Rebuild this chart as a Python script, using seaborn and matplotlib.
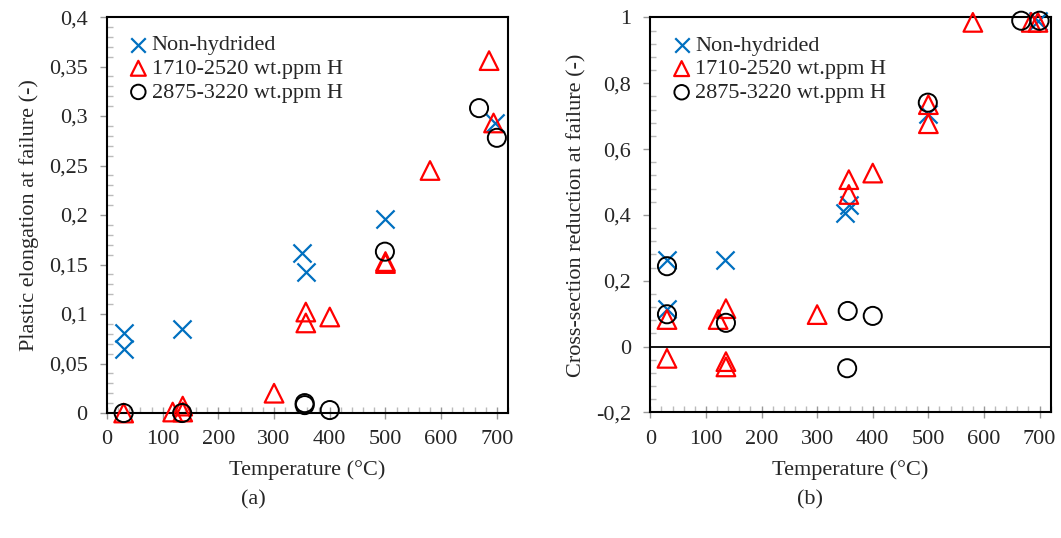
import matplotlib
matplotlib.use('Agg')
import matplotlib.pyplot as plt
import seaborn as sns
import pandas as pd
from matplotlib.ticker import MultipleLocator, FuncFormatter

# Panel (a): plastic elongation at failure
t_nh_a = [30, 30, 135, 350, 357, 499, 697]
v_nh_a = [0.081, 0.065, 0.085, 0.162, 0.142, 0.196, 0.293]
t_h1_a = [30, 118, 136, 136, 300, 357, 357, 400, 500, 500, 580, 686, 694]
v_h1_a = [0.0, 0.001, 0.007, 0.001, 0.02, 0.102, 0.091, 0.097, 0.151, 0.153, 0.245, 0.356, 0.293]
t_h2_a = [30, 135, 355, 355, 400, 499, 668, 700]
v_h2_a = [0.0, 0.0, 0.010, 0.008, 0.003, 0.163, 0.308, 0.278]

# Panel (b): cross-section reduction at failure
t_nh_b = [30, 30, 134, 350, 357, 500, 697]
v_nh_b = [0.264, 0.113, 0.262, 0.406, 0.429, 0.707, 0.99]
t_h1_b = [30, 30, 122, 136, 136, 136, 300, 357, 357, 400, 500, 500, 580, 685, 697]
v_h1_b = [0.082, -0.036, 0.082, 0.115, -0.046, -0.062, 0.097, 0.507, 0.462, 0.527, 0.735, 0.677, 0.985, 0.985, 0.985]
t_h2_b = [30, 30, 136, 354, 355, 400, 499, 667, 700]
v_h2_b = [0.244, 0.098, 0.072, -0.066, 0.108, 0.093, 0.741, 0.99, 0.99]

labels = ['Non-hydrided', '1710-2520 wt.ppm H', '2875-3220 wt.ppm H']

sns.set_style('white')
plt.rcParams['font.family'] = ['Liberation Serif', 'DejaVu Serif']

fig = plt.figure(figsize=(10.61, 5.38), dpi=100)
ax_a = fig.add_axes([0.1008, 0.2323, 0.378, 0.736])
ax_b = fig.add_axes([0.6129, 0.2336, 0.3774, 0.734])

comma = FuncFormatter(lambda v, pos: ('%g' % round(v, 4)).replace('.', ','))


def draw_panel(ax, nh, h1, h2, ylim, ymajor, yminor, ylabel):
    df_nh = pd.DataFrame({'T': nh[0], 'v': nh[1]})
    df_h1 = pd.DataFrame({'T': h1[0], 'v': h1[1]})
    df_h2 = pd.DataFrame({'T': h2[0], 'v': h2[1]})

    sns.scatterplot(data=df_nh, x='T', y='v', ax=ax, marker='x', s=170, color='#0070C0',
                    linewidth=1.6, label=labels[0], clip_on=False, zorder=3)
    sns.scatterplot(data=df_h1, x='T', y='v', ax=ax, marker='^', s=180, color='#FF0000',
                    facecolor='none', edgecolor='#FF0000', linewidth=1.6, label=labels[1],
                    clip_on=False, zorder=3)
    sns.scatterplot(data=df_h2, x='T', y='v', ax=ax, marker='o', s=170, color='black',
                    facecolor='none', edgecolor='black', linewidth=1.4, label=labels[2],
                    clip_on=False, zorder=3)

    ax.set_xlim(0, 720)
    ax.set_ylim(*ylim)
    ax.xaxis.set_major_locator(MultipleLocator(100))
    ax.xaxis.set_minor_locator(MultipleLocator(20))
    ax.yaxis.set_major_locator(MultipleLocator(ymajor))
    ax.yaxis.set_minor_locator(MultipleLocator(yminor))
    ax.yaxis.set_major_formatter(comma)

    ax.tick_params(axis='x', which='major', direction='inout', length=9, width=1, color='#999999',
                   labelsize=16, pad=8, bottom=True)
    ax.tick_params(axis='x', which='minor', direction='in', length=4, width=1, color='#bbbbbb', bottom=True)
    ax.tick_params(axis='y', which='major', direction='out', length=5, width=1, color='#999999',
                   labelsize=16, pad=9, left=True)
    ax.tick_params(axis='y', which='minor', direction='in', length=4, width=1, color='#bbbbbb', left=True)

    for sp in ax.spines.values():
        sp.set_visible(True)
        sp.set_color('black')
        sp.set_linewidth(1.5)

    ax.set_xlabel('Temperature (°C)', fontsize=16, labelpad=8)
    ax.set_ylabel(ylabel, fontsize=16, labelpad=7)

    ax.legend(loc='upper left', bbox_to_anchor=(0.045, 0.955), frameon=False, fontsize=16,
              handletextpad=0.0, labelspacing=0.14, handlelength=1.2, markerscale=0.8,
              borderaxespad=0, borderpad=0)


draw_panel(ax_a, (t_nh_a, v_nh_a), (t_h1_a, v_h1_a), (t_h2_a, v_h2_a),
           (0, 0.4), 0.05, 0.01, 'Plastic elongation at failure (-)')
draw_panel(ax_b, (t_nh_b, v_nh_b), (t_h1_b, v_h1_b), (t_h2_b, v_h2_b),
           (-0.2, 1.0), 0.2, 0.04, 'Cross-section reduction at failure (-)')
ax_b.axhline(0, color='black', lw=1.3, zorder=1)

fig.text(253 / 1061, 1 - 500 / 538, '(a)', fontsize=16, ha='center', va='center')
fig.text(810 / 1061, 1 - 500 / 538, '(b)', fontsize=16, ha='center', va='center')

plt.savefig('out.png', dpi=100)
